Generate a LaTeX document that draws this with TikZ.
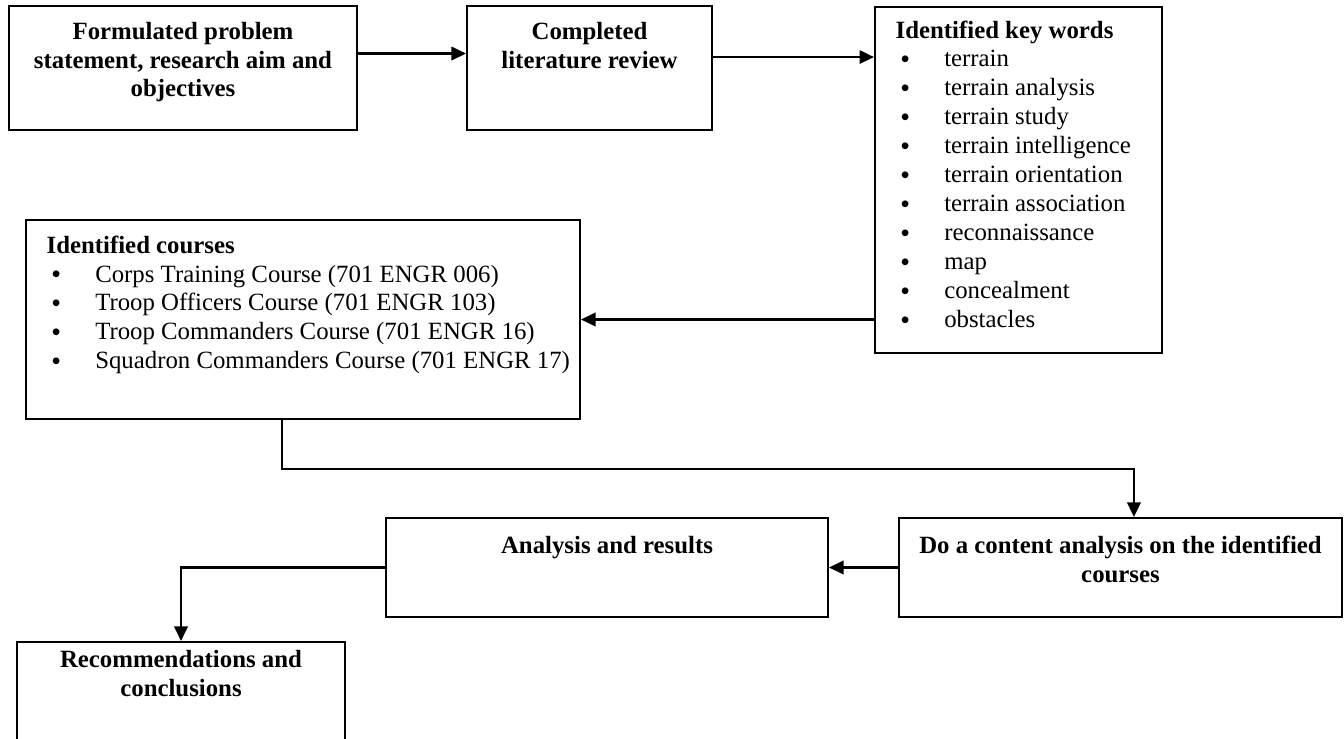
\documentclass[tikz,border=0pt,12pt]{standalone}
\usepackage{fontspec}
\setmainfont{Liberation Serif}
\newfontfamily\bulletfont{Liberation Sans}
\usetikzlibrary{arrows.meta}

\newlength{\pxu}
\setlength{\pxu}{0.4837pt}
% text hung from the top of a box: [first baseline]{width}{height}{text}
\newcommand{\boxtext}[4][16pt]{\parbox[c][#3\pxu][t]{#2\pxu}{\rule{0pt}{#1}#4}}
\newcommand{\listitem}[1]{\\\hspace*{12.5pt}\makebox[21pt][l]{\raisebox{-0.4pt}{\bulletfont\textbullet}}#1}

\tikzstyle{block} = [rectangle, draw, line width=1pt, inner sep=0pt,
    font=\fontsize{12}{14}\selectfont]
\tikzstyle{line} = [draw, line width=1pt, -{Triangle[length=7pt, width=6.5pt]}]

\begin{document}
\begin{tikzpicture}[x=0.4837pt, y=-0.4837pt]
\useasboundingbox (0,0) rectangle (1344,739);
\clip (0,0) rectangle (1344,739);

%Top row
\node (Problem) [block] at (183,68) {\boxtext{348}{124}{\centering\bfseries
    Formulated problem\\ statement, research aim and\\ objectives}};
\node (Review) [block] at (589.5,68) {\boxtext{245}{124}{\centering\bfseries
    Completed\\ literature review}};
\node (Keywords) [block] at (1018.5,180) {\boxtext[15pt]{287}{346}{\raggedright
    \hspace*{10pt}\textbf{Identified key words}
    \listitem{terrain}
    \listitem{terrain analysis}
    \listitem{terrain study}
    \listitem{terrain intelligence}
    \listitem{terrain orientation}
    \listitem{terrain association}
    \listitem{reconnaissance}
    \listitem{map}
    \listitem{concealment}
    \listitem{obstacles}}};

%Middle
\node (Courses) [block] at (303,319.5) {\boxtext{554}{199}{\raggedright
    \hspace*{10pt}\textbf{Identified courses}
    \listitem{Corps Training Course (701 ENGR 006)}
    \listitem{Troop Officers Course (701 ENGR 103)}
    \listitem{Troop Commanders Course (701 ENGR 16)}
    \listitem{Squadron Commanders Course (701 ENGR 17)}}};

%Below
\node (Analysis) [block] at (607,567.5) {\boxtext[17pt]{442}{99}{\centering\bfseries
    Analysis and results}};
\node (Content) [block] at (1120.5,567.5) {\boxtext[17pt]{443}{99}{\centering\bfseries
    Do a content analysis on the identified\\ courses}};
\node (Recommend) [block] at (181,711) {\boxtext[12.5pt]{328}{138}{\centering\bfseries
    Recommendations and\\ conclusions}};

\coordinate (ReviewOut) at ([yshift=5.3pt]Review.east);

\path [line]([yshift=7pt]Problem.east)--([yshift=7pt]Review.west);
\path [line](ReviewOut)--(ReviewOut -| Keywords.west);
\path [line](Keywords.west |- Courses.east)--(Courses.east);
\path [line]([xshift=-10.2pt]Courses.south)--++(0,49)-|([xshift=6.5pt]Content.north);
\path [line](Content.west)--(Analysis.east);
\path [line](Analysis.west)-|(Recommend.north);

\end{tikzpicture}
\end{document}
